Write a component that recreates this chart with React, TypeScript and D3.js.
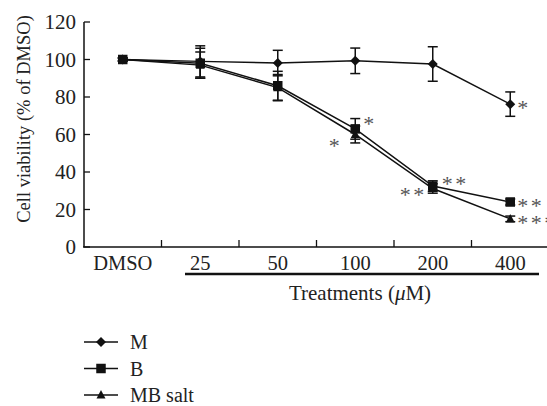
import React from "react";
import * as d3 from "d3";

const categories = ["DMSO", "25", "50", "100", "200", "400"];
const seriesNames = ["M", "B", "MB salt"];
const mValues = [100, 99, 98.1, 99.3, 97.6, 76.2];
const mErrors = [0.8, 8.3, 6.8, 6.8, 9.2, 6.5];
const bValues = [100, 98, 86, 63, 32.5, 24];
const bErrors = [0.8, 8, 7.7, 5.5, 2.8, 1.6];
const mbValues = [100, 97, 85, 60, 31.2, 15];
const mbErrors = [0.8, 7, 7, 4.5, 2.5, 1.5];
const yTicks = [0, 20, 40, 60, 80, 100, 120];
// significance annotations: [series, category index, text, placement]
const stars: [string, number, string, string][] = [
  ["M", 5, "*", "right"],
  ["B", 3, "*", "rightTop"],
  ["MB salt", 3, "*", "leftBelow"],
  ["B", 4, "**", "rightTop2"],
  ["MB salt", 4, "**", "left"],
  ["B", 5, "**", "right"],
  ["MB salt", 5, "***", "right"],
];

const W = 547;
const H = 406;
const font = "'Liberation Serif', 'Times New Roman', serif";

function Marker({ shape, x, y }: { shape: string; x: number; y: number }) {
  if (shape === "diamond") {
    const r = 5;
    return <path d={`M${x},${y - r}L${x + r},${y}L${x},${y + r}L${x - r},${y}Z`} fill="#111" />;
  }
  if (shape === "square") {
    const s = 9.5;
    return <rect x={x - s / 2} y={y - s / 2} width={s} height={s} fill="#111" />;
  }
  const s = 9;
  return <path d={`M${x},${y - s * 0.55}L${x + s / 2},${y + s * 0.4}L${x - s / 2},${y + s * 0.4}Z`} fill="#111" />;
}

export default function App() {
  const x = d3.scaleBand<string>().domain(categories).range([84, 84 + 6 * 77.5]).padding(0);
  const y = d3.scaleLinear().domain([0, 120]).range([247, 22]);
  const cx = (c: string) => (x(c) as number) + x.bandwidth() / 2;

  const series = [
    { name: "M", values: mValues, errors: mErrors, shape: "diamond" },
    { name: "MB salt", values: mbValues, errors: mbErrors, shape: "triangle" },
    { name: "B", values: bValues, errors: bErrors, shape: "square" },
  ];
  const line = d3
    .line<number>()
    .x((_, i) => cx(categories[i]))
    .y((v) => y(v));

  const edgeTicks = categories.slice(1).map((c) => x(c) as number);

  // returns star centre position
  const starPos = (name: string, i: number, side: string) => {
    const s = series.find((d) => d.name === name)!;
    const px = cx(categories[i]);
    const py = y(s.values[i]);
    if (side === "right") return { x: px + 7, y: py + 1, anchor: "start" };
    if (side === "rightTop") return { x: px + 8, y: py - 8, anchor: "start" };
    if (side === "rightTop2") return { x: px + 9, y: py - 5, anchor: "start" };
    if (side === "leftBelow") return { x: px - 13, y: py + 8, anchor: "end" };
    return { x: px - 6, y: py + 3, anchor: "end" };
  };

  const legendShapes: Record<string, string> = { M: "diamond", B: "square", "MB salt": "triangle" };

  return (
    <svg width={W} height={H} style={{ position: "absolute", left: 0, top: 0, background: "#fff" }} fontFamily={font}>
      {/* y axis */}
      <line x1={84} x2={84} y1={y(120)} y2={y(0)} stroke="#111" strokeWidth={1.5} />
      {yTicks.map((t) => (
        <g key={t}>
          <line x1={84} x2={90} y1={y(t)} y2={y(t)} stroke="#111" strokeWidth={1.3} />
          <text x={76} y={y(t) + 7} textAnchor="end" fontSize={21} fill="#222">
            {t}
          </text>
        </g>
      ))}
      <text transform={`translate(30,119) rotate(-90)`} textAnchor="middle" fontSize={18.5} fill="#222">
        Cell viability (% of DMSO)
      </text>
      {/* x axis */}
      <line x1={83} x2={W} y1={y(0)} y2={y(0)} stroke="#111" strokeWidth={1.5} />
      {edgeTicks.map((t, i) => (
        <line key={i} x1={t} x2={t} y1={y(0)} y2={y(0) - 7} stroke="#111" strokeWidth={1.3} />
      ))}
      {categories.map((c) => (
        <text key={c} x={cx(c)} y={270} textAnchor="middle" fontSize={20.5} fill="#222">
          {c}
        </text>
      ))}
      <line x1={185} x2={539} y1={274} y2={274} stroke="#111" strokeWidth={2.5} />
      <text x={360} y={300} textAnchor="middle" fontSize={21} fill="#222">
        Treatments (<tspan fontStyle="italic">μ</tspan>M)
      </text>
      {/* lines */}
      {series.map((s) => (
        <path key={s.name} d={line(s.values) as string} fill="none" stroke="#111" strokeWidth={1.5} />
      ))}
      {/* error bars */}
      {series.map((s) =>
        s.values.map((v, i) => {
          const px = cx(categories[i]);
          const top = y(v + s.errors[i]);
          const bot = y(v - s.errors[i]);
          return (
            <g key={s.name + i} stroke="#111" strokeWidth={1.5}>
              <line x1={px} x2={px} y1={top} y2={bot} />
              <line x1={px - 5} x2={px + 5} y1={top} y2={top} />
              <line x1={px - 5} x2={px + 5} y1={bot} y2={bot} />
            </g>
          );
        })
      )}
      {/* markers */}
      {series.map((s) =>
        s.values.map((v, i) => <Marker key={s.name + i} shape={s.shape} x={cx(categories[i])} y={y(v)} />)
      )}
      {/* stars */}
      {stars.map(([name, i, txt, side], k) => {
        const p = starPos(name, i, side);
        return (
          <text key={k} x={p.x} y={p.y + 10} textAnchor={p.anchor as any} fontSize={22} letterSpacing={2.5} fill="#555">
            {txt}
          </text>
        );
      })}
      {/* legend */}
      {seriesNames.map((n, i) => {
        const ly = 342 + i * 26.5;
        return (
          <g key={n}>
            <line x1={84} x2={118} y1={ly} y2={ly} stroke="#111" strokeWidth={1.5} />
            <Marker shape={legendShapes[n]} x={101} y={ly} />
            <text x={130} y={ly + 7} fontSize={20} fill="#222">
              {n}
            </text>
          </g>
        );
      })}
    </svg>
  );
}
